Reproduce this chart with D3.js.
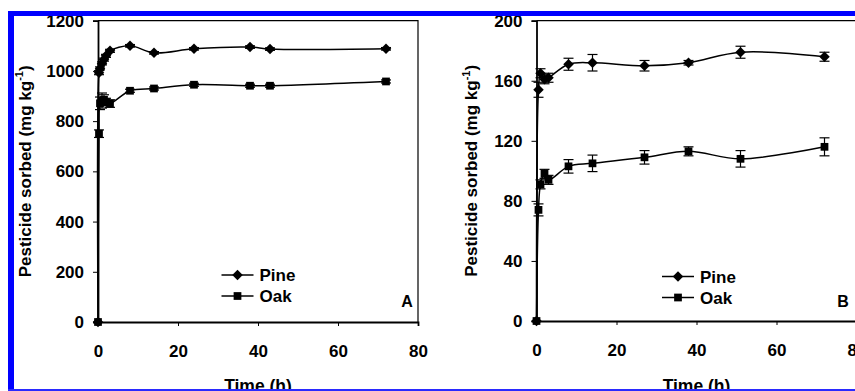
<!DOCTYPE html>
<html><head><meta charset="utf-8">
<script src="https://cdn.jsdelivr.net/npm/d3@7"></script>
<style>body{margin:0;background:#fff}svg{display:block}text{font-family:"Liberation Sans",Arial,sans-serif;font-weight:bold}</style>
</head><body>
<script>
// Panel A data
const timeA = [0, 0.25, 0.5, 1, 1.5, 2, 3, 8, 14, 24, 38, 43, 72];
const pineA = [0, 993, 1010, 1030, 1045, 1060, 1080, 1100, 1072, 1088, 1095, 1087, 1088];
const oakA  = [0, 750, 871, 882, 885, 876, 870, 921, 930, 945, 941, 941, 958];
const pineAErr = [0, 8, 6, 6, 6, 6, 6, 5, 5, 5, 5, 5, 5];
const oakAErr  = [0, 15, 25, 30, 20, 15, 15, 6, 6, 6, 6, 6, 6];
// Panel B data
const timeB = [0, 0.5, 1, 2, 3, 8, 14, 27, 38, 51, 72];
const pineB = [0, 154, 165, 161, 162, 171, 172, 170, 172, 179, 176];
const oakB  = [0, 74, 91, 98, 94, 103, 105, 109, 113, 108, 116];
const pineBErr = [0, 5, 3, 3, 3, 4, 5.5, 3.5, 1.5, 4, 3];
const oakBErr  = [0, 4, 3, 3, 3, 4.5, 5.5, 4.5, 3, 5.5, 6];
const xTicks = [0, 20, 40, 60, 80];
const yTicksA = [0, 200, 400, 600, 800, 1000, 1200];
const yTicksB = [0, 40, 80, 120, 160, 200];
const seriesNames = ["Pine", "Oak"];

const W = 855, H = 391, FS = 17;
const svg = d3.select("body").append("svg").attr("width", W).attr("height", H);
svg.append("rect").attr("width", W).attr("height", H).attr("fill", "#fff");
const diamondShape = d3.symbolDiamond2 || d3.symbolDiamond;

function panel(cfg) {
  const x = d3.scaleLinear().domain([0, 80]).range(cfg.xr);
  const y = d3.scaleLinear().domain(cfg.yd).range(cfg.yr);
  const g = svg.append("g");
  const x0 = cfg.xr[0], x1 = cfg.xr[1], yb = cfg.yr[0], yt = cfg.yr[1];
  g.append("path").attr("d", `M${x0},${yt}H${x1}V${yb}`).attr("fill", "none")
    .attr("stroke", "#000").attr("stroke-width", 1.2);
  const ya = g.append("g").attr("transform", `translate(${x0},0)`)
    .call(d3.axisLeft(y).tickValues(cfg.yTicks).tickSize(5).tickPadding(9).tickFormat(d3.format("d")));
  const xa = g.append("g").attr("transform", `translate(0,${yb})`)
    .call(d3.axisBottom(x).tickValues(xTicks).tickSize(4).tickPadding(19).tickFormat(d3.format("d")));
  [ya, xa].forEach(a => {
    a.select(".domain").attr("stroke", "#000").attr("stroke-width", 1.8);
    a.selectAll(".tick line").attr("stroke", "#000");
    a.selectAll("text").attr("font-size", FS).attr("font-weight", "bold")
      .attr("font-family", "'Liberation Sans',Arial,sans-serif").attr("fill", "#000");
  });
  const yc = (yb + yt) / 2;
  const yt_ = g.append("text").attr("transform", `translate(${cfg.ytx},${yc}) rotate(-90)`)
    .attr("text-anchor", "middle").attr("font-size", FS).attr("dy", "0.35em");
  yt_.append("tspan").text("Pesticide sorbed (mg kg");
  yt_.append("tspan").attr("font-size", 11).attr("dy", "-0.7em").text("-1");
  yt_.append("tspan").attr("font-size", FS).attr("dy", "0.45em").text(")");
  g.append("text").attr("x", x(40)).attr("y", 392).attr("text-anchor", "middle")
    .attr("font-size", 17.5).text("Time (h)");

  const line = d3.line().x(d => x(d[0])).y(d => y(d[1])).curve(d3.curveCatmullRom.alpha(0.5));
  const series = [
    {vals: cfg.pine, err: cfg.pineErr, shape: diamondShape, size: 70},
    {vals: cfg.oak, err: cfg.oakErr, shape: d3.symbolSquare, size: 60}
  ];
  series.forEach(s => {
    const pts = cfg.t.map((t, i) => [t, s.vals[i], s.err[i]]);
    g.append("path").attr("d", line(pts)).attr("fill", "none")
      .attr("stroke", "#000").attr("stroke-width", 1.5);
    const eb = g.append("g").attr("stroke", "#000").attr("stroke-width", 1.2);
    pts.filter(p => p[2] > 0).forEach(p => {
      const cx = x(p[0]), ylo = y(p[1] - p[2]), yhi = y(p[1] + p[2]);
      eb.append("line").attr("x1", cx).attr("x2", cx).attr("y1", ylo).attr("y2", yhi);
      eb.append("line").attr("x1", cx - 5).attr("x2", cx + 5).attr("y1", ylo).attr("y2", ylo);
      eb.append("line").attr("x1", cx - 5).attr("x2", cx + 5).attr("y1", yhi).attr("y2", yhi);
    });
    g.append("g").selectAll("path").data(pts).join("path")
      .attr("transform", p => `translate(${x(p[0])},${y(p[1])})`)
      .attr("d", d3.symbol().type(s.shape).size(s.size)).attr("fill", "#000");
  });
  series.forEach((s, i) => {
    const ly = cfg.leg[1] + i * 21;
    g.append("line").attr("x1", cfg.leg[0]).attr("x2", cfg.leg[0] + 32).attr("y1", ly).attr("y2", ly)
      .attr("stroke", "#000").attr("stroke-width", 1.5);
    g.append("path").attr("transform", `translate(${cfg.leg[0] + 16},${ly})`)
      .attr("d", d3.symbol().type(s.shape).size(s.size)).attr("fill", "#000");
    g.append("text").attr("x", cfg.leg[0] + 38).attr("y", ly + 6).attr("font-size", FS)
      .text(seriesNames[i]);
  });
  g.append("text").attr("x", cfg.lab[0]).attr("y", cfg.lab[1]).attr("text-anchor", "middle")
    .attr("font-size", 16).text(cfg.label);
}

panel({xr: [98, 418], yd: [0, 1200], yr: [322, 20.7], yTicks: yTicksA, ytx: 25,
  t: timeA, pine: pineA, oak: oakA, pineErr: pineAErr, oakErr: oakAErr,
  leg: [221.5, 275], lab: [407, 307], label: "A"});
panel({xr: [536.5, 856.5], yd: [0, 200], yr: [321, 20.7], yTicks: yTicksB, ytx: 471.5,
  t: timeB, pine: pineB, oak: oakB, pineErr: pineBErr, oakErr: oakBErr,
  leg: [662, 276.5], lab: [843, 307], label: "B"});

svg.append("rect").attr("x", 8).attr("y", 11).attr("width", 6).attr("height", 380).attr("fill", "#0000ff");
svg.append("rect").attr("x", 8).attr("y", 11).attr("width", 847).attr("height", 5).attr("fill", "#0000ff");
svg.append("rect").attr("x", 8).attr("y", 389).attr("width", 847).attr("height", 2).attr("fill", "#2a2aff");
</script>
</body></html>
